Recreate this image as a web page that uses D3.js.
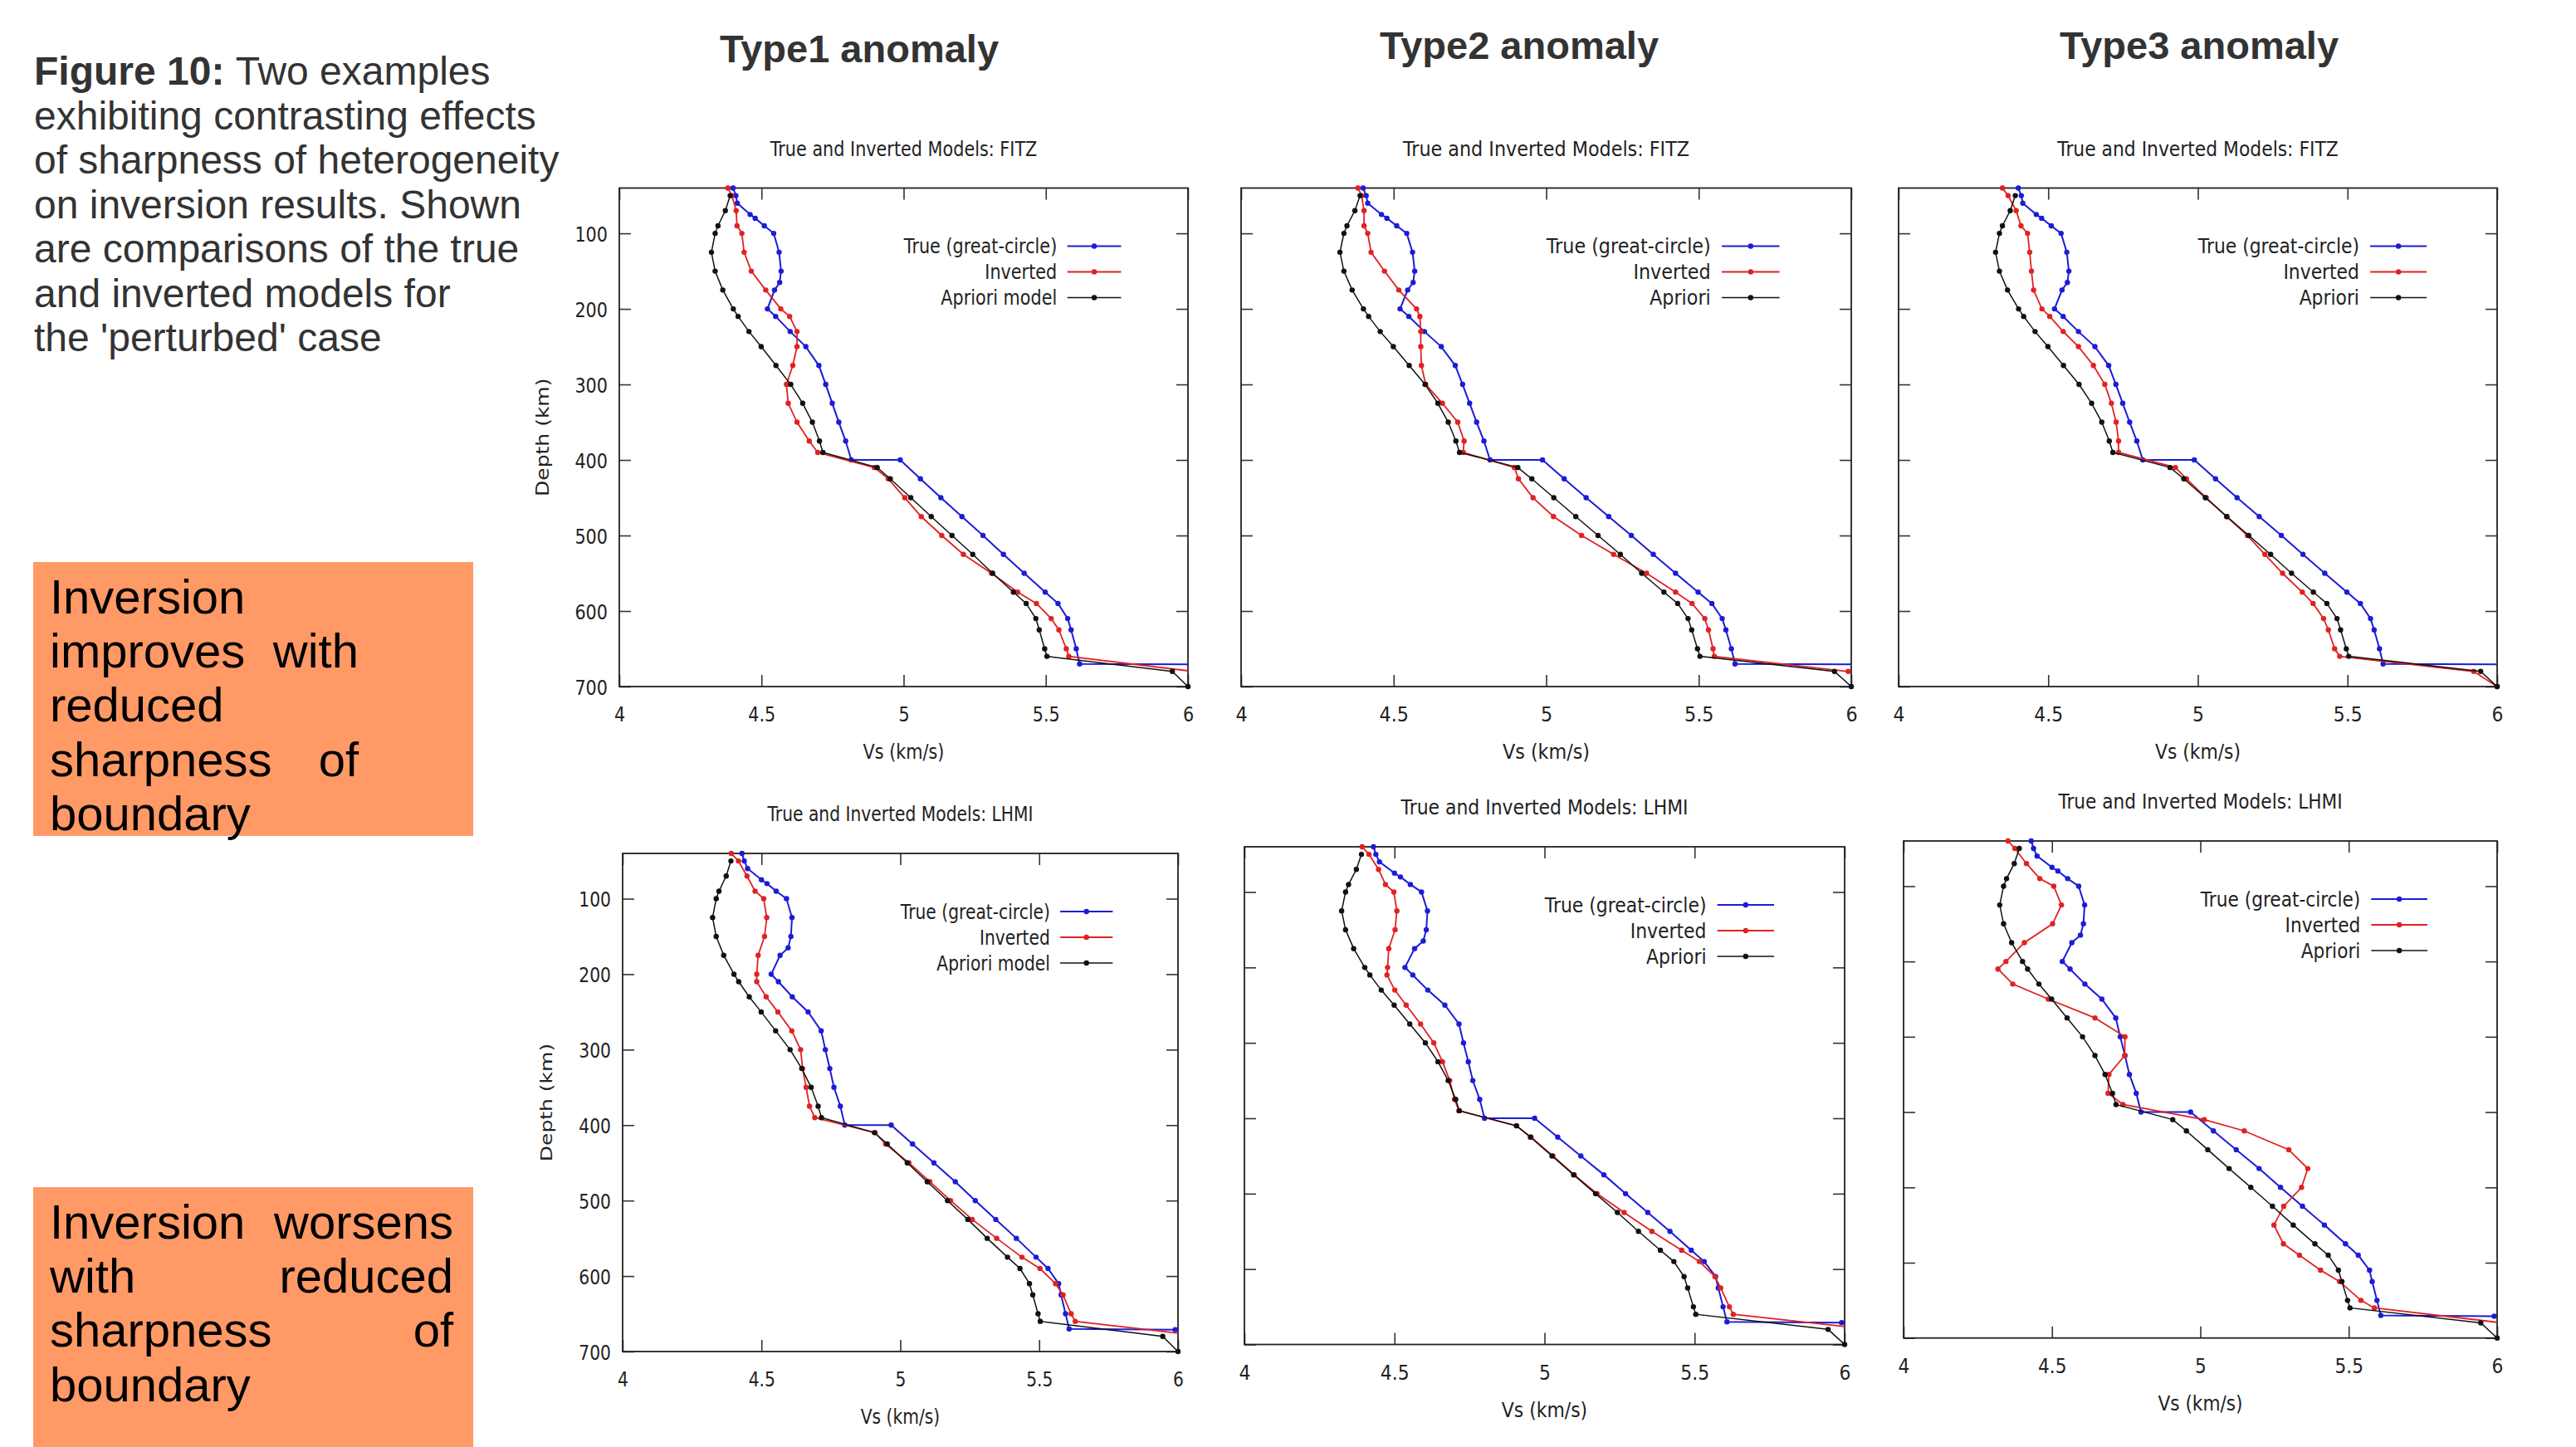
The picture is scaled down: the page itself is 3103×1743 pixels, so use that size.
<!DOCTYPE html>
<html>
<head>
<meta charset="utf-8">
<script src="https://cdn.jsdelivr.net/npm/d3@7"></script>
<style>
  body { margin: 0; background: #fff; }
  svg { display: block; }
</style>
</head>
<body>
<div id="chart"></div>
<script>
// ---- data ----
// depth grids (km)
const depthTrue = [40, 50, 60, 75, 80, 90, 100, 125, 150, 165, 175, 200, 210, 230, 250, 275, 300, 325, 350, 375, 400, 400, 425, 450, 475, 500, 525, 550, 575, 590, 610, 625, 650, 670, 671];
const depthApriori = [50, 70, 90, 100, 125, 150, 175, 200, 210, 230, 250, 275, 300, 325, 350, 375, 390, 410, 425, 450, 475, 500, 525, 550, 575, 590, 610, 625, 650, 660, 680, 700];
const depthInv = [40, 50, 70, 90, 100, 125, 150, 175, 200, 210, 230, 250, 275, 300, 325, 350, 375, 390, 410, 425, 450, 475, 500, 525, 550, 575, 590, 610, 625, 650, 660, 680, 700];

// Vs (km/s)
const aprioriVs = [4.39, 4.373, 4.347, 4.337, 4.324, 4.337, 4.364, 4.401, 4.418, 4.456, 4.499, 4.551, 4.603, 4.645, 4.679, 4.704, 4.716, 4.907, 4.953, 5.025, 5.097, 5.17, 5.243, 5.313, 5.386, 5.431, 5.465, 5.477, 5.496, 5.504, 5.945, 6.0];
const trueFitz = [4.40, 4.41, 4.415, 4.46, 4.478, 4.51, 4.543, 4.562, 4.569, 4.564, 4.546, 4.521, 4.55, 4.601, 4.656, 4.702, 4.726, 4.749, 4.772, 4.796, 4.816, 4.988, 5.059, 5.131, 5.205, 5.279, 5.351, 5.424, 5.498, 5.543, 5.577, 5.589, 5.607, 5.619, 6.4];
const trueLhmi = [4.43, 4.438, 4.45, 4.50, 4.52, 4.553, 4.59, 4.61, 4.606, 4.596, 4.567, 4.535, 4.561, 4.611, 4.668, 4.715, 4.73, 4.746, 4.761, 4.784, 4.80, 4.967, 5.044, 5.121, 5.198, 5.27, 5.344, 5.418, 5.489, 5.532, 5.57, 5.579, 5.595, 5.608, 5.99];
const invFitz1 = [4.382, 4.396, 4.411, 4.414, 4.431, 4.439, 4.464, 4.515, 4.568, 4.599, 4.625, 4.625, 4.610, 4.588, 4.594, 4.625, 4.668, 4.698, 4.897, 4.946, 5.004, 5.062, 5.134, 5.21, 5.309, 5.401, 5.467, 5.519, 5.546, 5.572, 5.581, 6.02];
const invFitz2 = [4.383, 4.395, 4.403, 4.403, 4.415, 4.426, 4.470, 4.517, 4.575, 4.586, 4.589, 4.589, 4.591, 4.605, 4.660, 4.710, 4.731, 4.728, 4.896, 4.909, 4.957, 5.024, 5.116, 5.221, 5.329, 5.424, 5.478, 5.520, 5.532, 5.547, 5.551, 5.99];
const invFitz3 = [4.347, 4.366, 4.393, 4.409, 4.431, 4.438, 4.444, 4.451, 4.479, 4.505, 4.550, 4.601, 4.651, 4.689, 4.711, 4.727, 4.735, 4.735, 4.925, 4.962, 5.028, 5.096, 5.166, 5.224, 5.283, 5.349, 5.385, 5.420, 5.436, 5.457, 5.474, 5.922, 6.0];
const invLhmi1 = [4.391, 4.417, 4.448, 4.477, 4.508, 4.519, 4.511, 4.488, 4.483, 4.483, 4.517, 4.559, 4.609, 4.641, 4.648, 4.661, 4.673, 4.692, 4.909, 4.947, 5.031, 5.106, 5.181, 5.259, 5.347, 5.438, 5.503, 5.559, 5.586, 5.615, 5.630, 6.1];
const invLhmi2 = [4.392, 4.415, 4.447, 4.470, 4.498, 4.508, 4.502, 4.481, 4.477, 4.475, 4.501, 4.539, 4.587, 4.631, 4.660, 4.684, 4.700, 4.715, 4.906, 4.955, 5.028, 5.099, 5.175, 5.265, 5.358, 5.457, 5.516, 5.568, 5.587, 5.616, 5.629, 6.09];
const invLhmi3 = [4.352, 4.375, 4.414, 4.459, 4.506, 4.532, 4.502, 4.407, 4.345, 4.318, 4.368, 4.488, 4.645, 4.746, 4.745, 4.692, 4.689, 4.739, 5.013, 5.148, 5.298, 5.362, 5.341, 5.281, 5.248, 5.280, 5.334, 5.405, 5.469, 5.541, 5.586, 6.02];

const trueSeries = [trueFitz, trueFitz, trueFitz, trueLhmi, trueLhmi, trueLhmi];
const invSeries = [invFitz1, invFitz2, invFitz3, invLhmi1, invLhmi2, invLhmi3];

// text
const xTicks = [4, 4.5, 5, 5.5, 6];
const xTickLabels = ["4", "4.5", "5", "5.5", "6"];
const yTicks = [100, 200, 300, 400, 500, 600, 700];
const yTickLabels = ["100", "200", "300", "400", "500", "600", "700"];
const panelTitles = ["True and Inverted Models: FITZ", "True and Inverted Models: FITZ", "True and Inverted Models: FITZ",
                     "True and Inverted Models: LHMI", "True and Inverted Models: LHMI", "True and Inverted Models: LHMI"];
const aprioriNames = ["Apriori model", "Apriori", "Apriori", "Apriori model", "Apriori", "Apriori"];
const typeHeaders = ["Type1 anomaly", "Type2 anomaly", "Type3 anomaly"];
const captionLines = ["Two examples", "exhibiting contrasting effects", "of sharpness of heterogeneity",
                      "on inversion results. Shown", "are comparisons of the true", "and inverted models for", "the 'perturbed' case"];
const box1Lines = [["Inversion"], ["improves", "with"], ["reduced"], ["sharpness", "of"], ["boundary"]];
const box2Lines = [["Inversion", "worsens"], ["with", "reduced"], ["sharpness", "of"], ["boundary"]];

// ---- layout ----
const W = 3103, H = 1743;
const panelLayout = [
  { x0: 746, x1: 1431, y0: 226.5, y1: 827 },
  { x0: 1495, x1: 2230, y0: 226.5, y1: 827 },
  { x0: 2287, x1: 3008, y0: 226.5, y1: 827 },
  { x0: 750, x1: 1419, y0: 1028, y1: 1628 },
  { x0: 1499, x1: 2222, y0: 1020, y1: 1619.5 },
  { x0: 2293, x1: 3008, y0: 1013, y1: 1611.7 }
];
const headerPos = [[1035, 75], [1830, 71], [2649, 71]];
const panelFont = "'DejaVu Sans', sans-serif";
const colors = { tru: "#1c1cd6", inv: "#e02222", apr: "#111111" };

const svg = d3.select("#chart").append("svg")
    .attr("width", W)
    .attr("height", H)
    .attr("viewBox", `0 0 ${W} ${H}`);

svg.append("rect").attr("width", W).attr("height", H).attr("fill", "#fff");

// squeeze horizontal text, the original plots were shrunk sideways
function squeeze(sel, k) {
    sel.each(function () {
        const w = this.getComputedTextLength();
        if (w > 0) d3.select(this).attr("textLength", w * k).attr("lengthAdjust", "spacingAndGlyphs");
    });
}

panelLayout.forEach((p, i) => {
    const sx = (p.x1 - p.x0) / 825;
    const x = d3.scaleLinear().domain([4, 6]).range([p.x0, p.x1]);
    const y = d3.scaleLinear().domain([40, 700]).range([p.y0, p.y1]);
    const g = svg.append("g");

    g.append("clipPath").attr("id", "clip" + i)
        .append("rect")
        .attr("x", p.x0).attr("y", p.y0)
        .attr("width", p.x1 - p.x0).attr("height", p.y1 - p.y0);

    // axes, ticks inward on all four sides
    const styleAxis = a => {
        a.attr("font-family", panelFont).attr("font-size", 25).attr("color", "#222");
        a.select(".domain").remove();
        a.selectAll("line").attr("stroke", "#333").attr("stroke-width", 1.6);
    };
    const bottom = g.append("g").attr("transform", `translate(0,${p.y1})`)
        .call(d3.axisBottom(x).tickValues(xTicks).tickFormat((d, j) => xTickLabels[j]).tickSize(-14));
    styleAxis(bottom);
    bottom.selectAll("text").attr("y", 42).attr("dy", null).call(squeeze, sx);

    const top = g.append("g").attr("transform", `translate(0,${p.y0})`)
        .call(d3.axisTop(x).tickValues(xTicks).tickFormat(() => "").tickSize(-14));
    styleAxis(top);

    const showY = i === 0 || i === 3;
    const left = g.append("g").attr("transform", `translate(${p.x0},0)`)
        .call(d3.axisLeft(y).tickValues(yTicks).tickFormat((d, j) => showY ? yTickLabels[j] : "").tickSize(-14));
    styleAxis(left);
    left.selectAll("text").attr("x", -14).attr("dy", "0.36em").call(squeeze, sx);

    const right = g.append("g").attr("transform", `translate(${p.x1},0)`)
        .call(d3.axisRight(y).tickValues(yTicks).tickFormat(() => "").tickSize(-14));
    styleAxis(right);

    // frame
    g.append("rect")
        .attr("x", p.x0).attr("y", p.y0)
        .attr("width", p.x1 - p.x0).attr("height", p.y1 - p.y0)
        .attr("fill", "none").attr("stroke", "#222").attr("stroke-width", 1.8);

    // titles and axis labels
    g.append("text")
        .attr("x", (p.x0 + p.x1) / 2).attr("y", p.y0 - 39)
        .attr("text-anchor", "middle")
        .attr("font-family", panelFont).attr("font-size", 25).attr("fill", "#222")
        .text(panelTitles[i]).call(squeeze, sx);

    g.append("text")
        .attr("x", (p.x0 + p.x1) / 2).attr("y", p.y1 + 87)
        .attr("text-anchor", "middle")
        .attr("font-family", panelFont).attr("font-size", 25).attr("fill", "#222")
        .text("Vs (km/s)").call(squeeze, sx);

    if (showY) {
        g.append("text")
            .attr("transform", `translate(${p.x0 - 85},${(p.y0 + p.y1) / 2}) scale(${sx},1) rotate(-90)`)
            .attr("text-anchor", "middle")
            .attr("font-family", panelFont).attr("font-size", 25).attr("fill", "#222")
            .text("Depth (km)");
    }

    // series
    const series = [
        { key: "tru", pts: trueSeries[i].map((v, j) => [v, depthTrue[j]]), w: 2, name: "True (great-circle)" },
        { key: "inv", pts: invSeries[i].map((v, j) => [v, depthInv[j]]), w: 1.8, name: "Inverted" },
        { key: "apr", pts: aprioriVs.map((v, j) => [v, depthApriori[j]]), w: 1.5, name: aprioriNames[i] }
    ];
    const line = d3.line().x(d => x(d[0])).y(d => y(d[1]));

    series.forEach(s => {
        g.append("path")
            .datum(s.pts)
            .attr("clip-path", `url(#clip${i})`)
            .attr("fill", "none")
            .attr("stroke", colors[s.key])
            .attr("stroke-width", s.w)
            .attr("d", line);
        g.selectAll(null)
            .data(s.pts.filter(d => d[0] <= 6 && d[1] <= 700))
            .enter().append("circle")
            .attr("cx", d => x(d[0]))
            .attr("cy", d => y(d[1]))
            .attr("r", 3.2)
            .attr("fill", colors[s.key]);
    });

    // legend
    series.forEach((s, k) => {
        const ly = p.y0 + 70 + k * 31;
        g.append("text")
            .attr("x", p.x1 - 190 * sx).attr("y", ly + 8.5)
            .attr("text-anchor", "end")
            .attr("font-family", panelFont).attr("font-size", 25).attr("fill", "#222")
            .text(s.name).call(squeeze, sx);
        g.append("line")
            .attr("x1", p.x1 - 175 * sx).attr("x2", p.x1 - 97 * sx)
            .attr("y1", ly).attr("y2", ly)
            .attr("stroke", colors[s.key]).attr("stroke-width", s.w);
        g.append("circle")
            .attr("cx", p.x1 - 136 * sx).attr("cy", ly)
            .attr("r", 3.2).attr("fill", colors[s.key]);
    });
});

// column headers
svg.selectAll(".hdr")
    .data(typeHeaders)
    .enter().append("text")
    .attr("class", "hdr")
    .attr("x", (d, i) => headerPos[i][0])
    .attr("y", (d, i) => headerPos[i][1])
    .attr("text-anchor", "middle")
    .attr("font-family", "'Liberation Sans', Arial, sans-serif")
    .attr("font-weight", "bold")
    .attr("font-size", 47)
    .attr("fill", "#333")
    .text(d => d);

// caption
const cap = svg.append("g")
    .attr("font-family", "'Liberation Sans', Arial, sans-serif")
    .attr("font-size", 48)
    .attr("fill", "#333");
captionLines.forEach((t, i) => {
    const tx = cap.append("text").attr("x", 41).attr("y", 102 + i * 53.5);
    if (i === 0) tx.append("tspan").attr("font-weight", "bold").text("Figure 10: ");
    tx.append("tspan").text(t);
});

// orange note boxes, justified text
function noteBox(top, height, lines, rightEdge, firstBase) {
    svg.append("rect")
        .attr("x", 40).attr("y", top)
        .attr("width", 530).attr("height", height)
        .attr("fill", "#ff9966");
    const tg = svg.append("g")
        .attr("font-family", "'Liberation Sans', Arial, sans-serif")
        .attr("font-size", 58)
        .attr("fill", "#000");
    lines.forEach((words, i) => {
        const by = firstBase + i * 65.2;
        tg.append("text").attr("x", 60).attr("y", by).text(words[0]);
        if (words.length > 1) {
            tg.append("text").attr("x", rightEdge).attr("y", by)
                .attr("text-anchor", "end").text(words[1]);
        }
    });
}
noteBox(677, 330, box1Lines, 432, 739);
noteBox(1430, 313, box2Lines, 546, 1492);
</script>
</body>
</html>
